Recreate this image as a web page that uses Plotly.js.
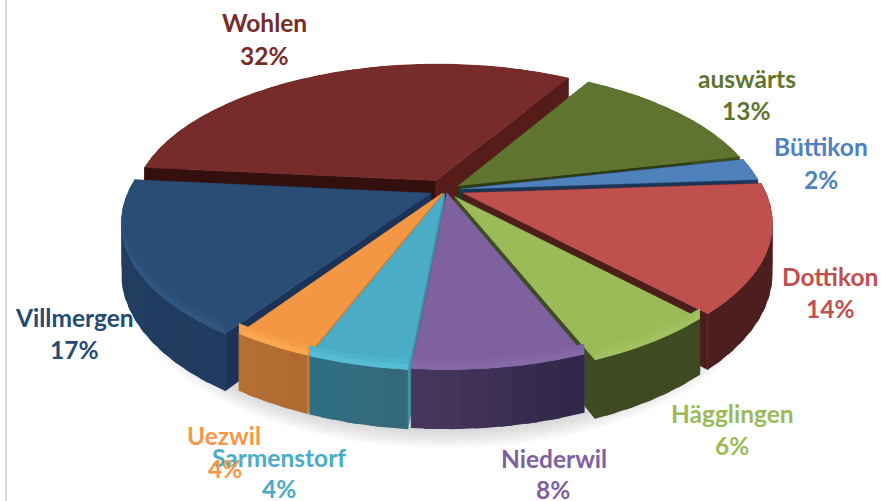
<!DOCTYPE html>
<html><head><meta charset="utf-8">
<script src="https://cdn.plot.ly/plotly-3.0.1.min.js"></script>
<style>html,body{margin:0;padding:0;background:#fff}#c{width:881px;height:501px}</style>
</head><body><div id="c"></div>
<script>
// Data (clockwise, starting with Wohlen)
const categories = ['Wohlen','auswärts','Büttikon','Dottikon','Hägglingen','Niederwil','Sarmenstorf','Uezwil','Villmergen'];
const values = [32, 13, 2.4, 14, 6, 7.6, 4.4, 3.6, 17];
// Styles
const topColors  = ['#772B2A','#5F752F','#4F81BD','#C0504D','#9BBB59','#7F61A0','#4AACC6','#F39744','#2A4D75'];
const textColors = ['#772B2A','#5F752F','#4F81BD','#C0504D','#9BBB59','#7F61A0','#4AACC6','#F79646','#254A75'];
const wallStart  = ['#551C1A','#3C4A1E','#1E3A5C','#4D1E1E','#3F4A22','#4A3960','#2E7187','#B87033','#234063'];
const wallEnd    = ['#330F0E','#3C4A1E','#1E3A5C','#4D1E1E','#3F4A22','#30274A','#33697A','#B06A30','#1F3C60'];
const cutColors  = ['#551C1A','#2E3A14','#1A3555','#4D1C1C','#3E4C20','#4A3960','#3F93A8','#C97E35','#1B3357'];
const cutBack    = ['#330F0E','#2E3A14','#1A3555','#4D1C1C','#3E4C20','#4A3960','#3F93A8','#C97E35','#1B3357'];
const bevelColors= ['#772B2A','#5F752F','#4F81BD','#C0504D','#A5C463','#8A6CAB','#58C3DC','#FFAE55','#335A86'];
const explode    = [0.075,0.05,0.05,0.06,0.055,0.02,0.025,0.025,0.055];
const paintOrder = [0,1,2,8,3,7,4,6,5];
// Label placement
const nameX = [264,747,821,830,732,554,279,224,74];
const nameY = [22,78,146,276,413,458,457,435,317];
const pctX  = [264,746,821,830,732,553,279,225,74];
const pctY  = [55,110,179,308,445,489,488,468,349];

const cx=446, cy=190, R=302, S=142, K=0.19, H=48, startDeg=-84.5;

function project(u,v,z){ const w=1/(1-K*v); return [cx+R*u*w, cy+(S*v+H*z)*w]; }
function rad(d){return d*Math.PI/180;}
function hex(c){return [1,3,5].map(i=>parseInt(c.substr(i,2),16));}
function mix(a,b,t){const A=hex(a),B=hex(b);return 'rgb('+A.map((x,i)=>Math.round(x+(B[i]-x)*t)).join(',')+')';}

const total=values.reduce((a,b)=>a+b,0);
let acc=startDeg; const spans=values.map(v=>{const a=acc; acc+=v/total*360; return [a,acc];});
const traces=[];
function poly(pts,color,name,opacity,stroke){
  const xs=pts.map(p=>p[0]), ys=pts.map(p=>p[1]);
  xs.push(xs[0]); ys.push(ys[0]);
  traces.push({type:'scatter',mode:'lines',x:xs,y:ys,fill:'toself',fillcolor:color,
    line:{color:color,width:stroke||0},opacity:opacity||1,name:name,hoverinfo:'skip',showlegend:false});
}
// soft shadow under the pie
for(let i=0;i<8;i++){
  const pts=[]; const r=1.035-i*0.006;
  for(let d=0;d<360;d+=5){const u=r*Math.sin(rad(d)),v=r*Math.cos(rad(d)); pts.push(project(u,v+0.01,1.22-i*0.015));}
  poly(pts,'#808080','shadow',0.045);
}
paintOrder.forEach(i=>{
  const [a,b]=spans[i], m=rad((a+b)/2), e=explode[i];
  const ox=e*Math.sin(m), oy=-e*Math.cos(m);
  const P=(d,r,z)=>project(ox+r*Math.sin(rad(d)),oy-r*Math.cos(rad(d)),z);
  const n=Math.max(4,Math.ceil((b-a)/4));
  const ang=k=>a+(b-a)*Math.min(k,n)/n;
  // radial cut faces
  poly([P(a,0,0),P(a,1,0),P(a,1,1),P(a,0,1)],cutBack[i],categories[i],1,0.5);
  poly([P(b,0,0),P(b,1,0),P(b,1,1),P(b,0,1)],cutColors[i],categories[i],1,0.5);
  // outer wall: overlapping strips so no seams show
  for(let k=0;k<n;k++){
    const pts=[];
    const e2=Math.min(k+1.5,n);
    for(let q=0;q<=4;q++) pts.push(P(ang(k+(e2-k)*q/4),1,0));
    for(let q=4;q>=0;q--) pts.push(P(ang(k+(e2-k)*q/4),1,1));
    poly(pts,mix(wallStart[i],wallEnd[i],1-k/n),categories[i]);
  }
  // top face
  const top=[P(a,0,0)];
  for(let k=0;k<=n;k++) top.push(P(ang(k),1,0));
  poly(top,topColors[i],categories[i],1,0.4);
  // lit front edge of the top face, fading in over two bands
  [[-0.18,0.3],[-0.09,0.7]].forEach(b2=>{
    const sel=[];
    for(let k=0;k<=24;k++){ const d=a+(b-a)*k/24; if(-Math.cos(rad(d))>0.2) sel.push(d); }
    if(sel.length>1){
      const pts=sel.map(d=>P(d,1,0)).concat(sel.slice().reverse().map(d=>P(d,1,b2[0])));
      poly(pts,mix(topColors[i],bevelColors[i],b2[1]),categories[i]);
    }
  });
});
const annotations=[];
const font=c=>({family:'Lato, "Open Sans", sans-serif',size:24.5,color:c});
const order=[0,1,2,3,4,5,6,8,7];
order.forEach(i=>{
  annotations.push({x:nameX[i],y:nameY[i],xref:'x',yref:'y',text:'<b>'+categories[i]+'</b>',showarrow:false,xanchor:'center',yanchor:'middle',font:font(textColors[i])});
});
order.forEach(i=>{
  annotations.push({x:pctX[i],y:pctY[i],xref:'x',yref:'y',text:'<b>'+Math.round(values[i])+'%</b>',showarrow:false,xanchor:'center',yanchor:'middle',font:font(textColors[i])});
});
Plotly.newPlot('c',traces,{
  width:881,height:501,margin:{l:0,r:0,t:0,b:0},paper_bgcolor:'#fff',plot_bgcolor:'#fff',showlegend:false,
  xaxis:{range:[0,881],visible:false,fixedrange:true},
  yaxis:{range:[501,0],visible:false,fixedrange:true},
  annotations:annotations,
  shapes:[{type:'line',xref:'x',yref:'y',x0:6,x1:6,y0:0,y1:501,line:{color:'#D9D9D9',width:2}}]
},{displayModeBar:false,staticPlot:true});
</script></body></html>
